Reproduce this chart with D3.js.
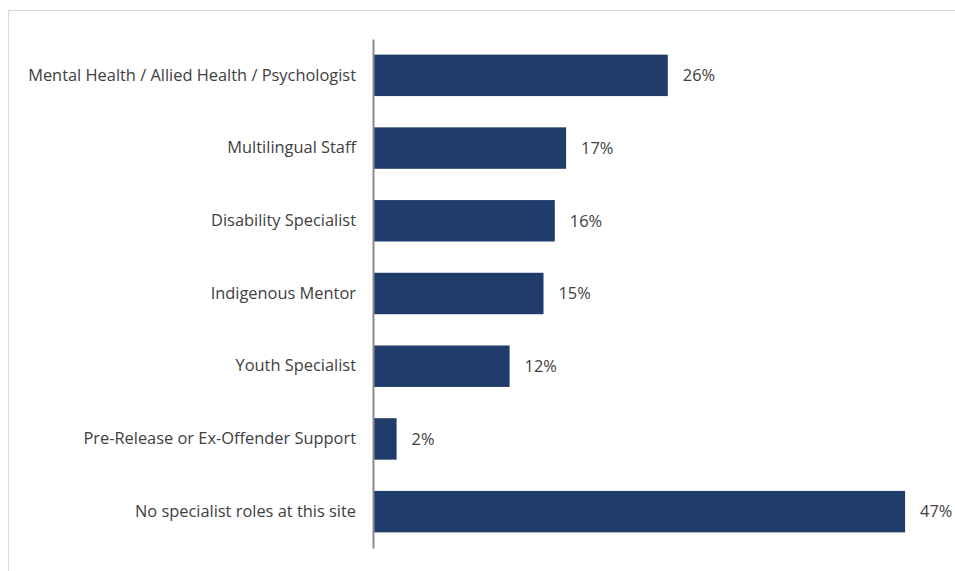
<!DOCTYPE html>
<html>
<head>
<meta charset="utf-8">
<script src="https://cdn.jsdelivr.net/npm/d3@7"></script>
<style>
  html, body { margin: 0; padding: 0; background: #fff; }
  svg { display: block; }
  text { font-family: "Open Sans", Lato, sans-serif; fill: #404040; }
</style>
</head>
<body>
<svg id="chart" width="955" height="571"></svg>
<script>
// Specialist roles reported at each site (% of sites)
const categories = [
  "Mental Health / Allied Health / Psychologist",
  "Multilingual Staff",
  "Disability Specialist",
  "Indigenous Mentor",
  "Youth Specialist",
  "Pre-Release or Ex-Offender Support",
  "No specialist roles at this site"
];
const values = [26, 17, 16, 15, 12, 2, 47];

const fontFamily = "'Open Sans', Lato, sans-serif";
const fontSize = 16.4;

const svg = d3.select("#chart");

// Chart frame (open on the right and bottom edges of the page)
svg.append("rect")
  .attr("x", 8.5).attr("y", 10.5)
  .attr("width", 960).attr("height", 580)
  .attr("fill", "none")
  .attr("stroke", "#d9d9d9")
  .attr("stroke-width", 1);

const x = d3.scaleLinear().domain([0, 50]).range([374, 939]);
const y = d3.scaleBand()
  .domain(categories)
  .range([39, 548])
  .paddingInner(0.43)
  .paddingOuter(0.215);

const data = categories.map((c, i) => ({ c, v: values[i] }));

svg.append("g").selectAll("rect")
  .data(data)
  .join("rect")
  .attr("x", x(0))
  .attr("y", d => y(d.c))
  .attr("width", d => x(d.v) - x(0))
  .attr("height", y.bandwidth())
  .attr("fill", "#1f3c6a");

// Value labels
svg.append("g").selectAll("text")
  .data(data)
  .join("text")
  .attr("x", d => x(d.v) + 15)
  .attr("y", d => y(d.c) + y.bandwidth() / 2)
  .attr("dy", "0.35em")
  .attr("font-size", fontSize)
  .text(d => d.v + "%");

// Category axis
const yAxis = d3.axisLeft(y).tickSize(0).tickPadding(17);
const gy = svg.append("g")
  .attr("transform", `translate(${x(0) - 1},0)`)
  .call(yAxis);
gy.select(".domain").attr("stroke", "#8c8c8c").attr("stroke-width", 2);
gy.selectAll(".tick text")
  .attr("font-size", fontSize)
  .style("font-family", fontFamily)
  .attr("fill", "#404040");
</script>
</body>
</html>
